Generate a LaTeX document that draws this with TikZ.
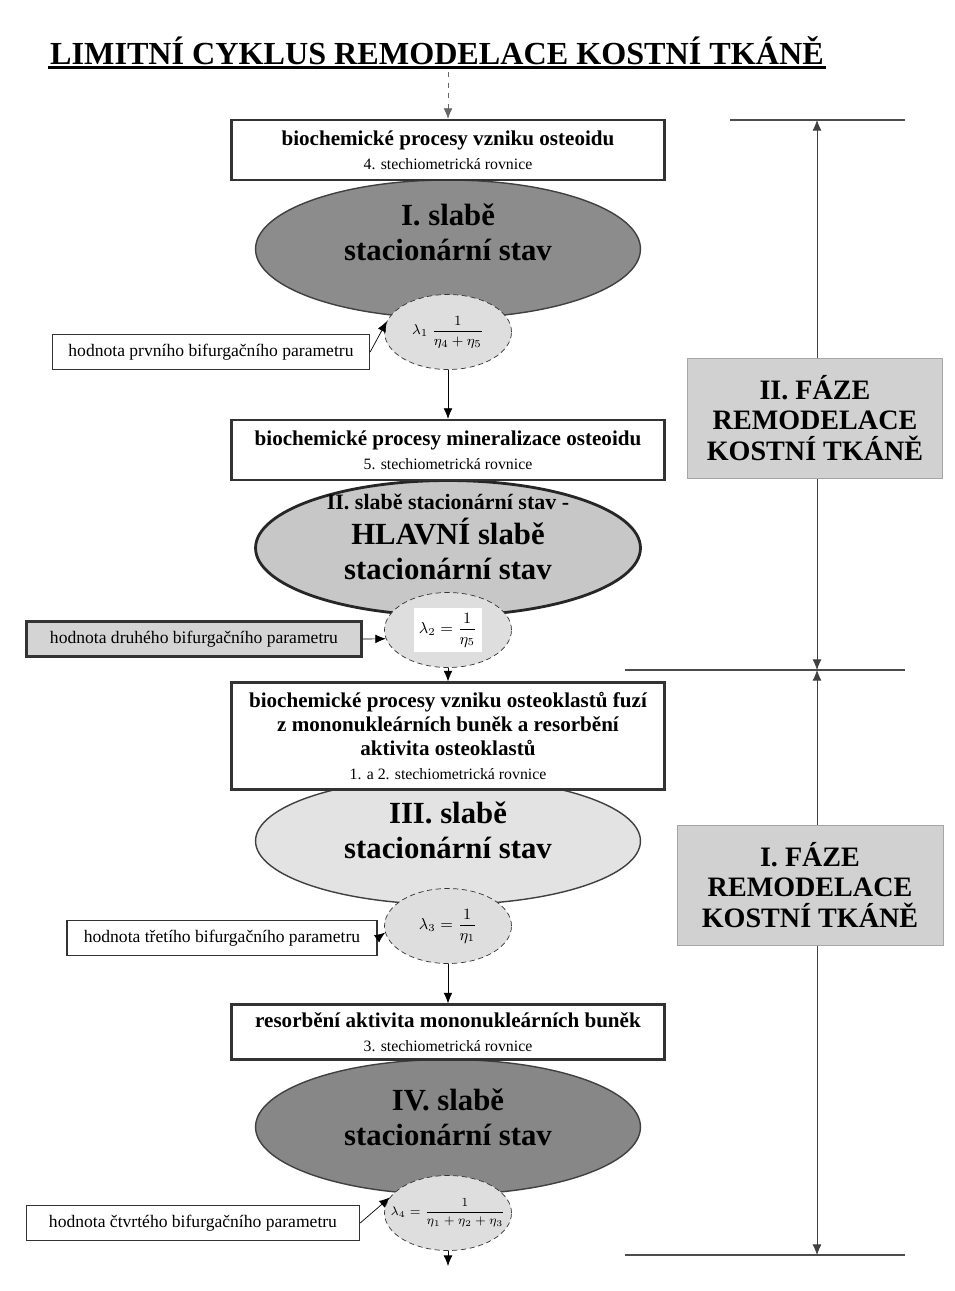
\documentclass[tikz,border=0pt]{standalone}
\usepackage{amsmath, amssymb}
\usepackage{fontspec}
\setmainfont{Liberation Serif}
\usepackage{xcolor}
\usepackage{tikz}
\usetikzlibrary{shapes.geometric, positioning, arrows.meta}

\begin{document}
\begin{tikzpicture}[>={Latex[length=6pt,width=5pt]}, x=0.02cm, y=-0.02cm,
    box/.style={draw=black!80, line width=1.3pt, fill=white, minimum width=8.66cm, align=center, inner sep=2pt, font=\bfseries\fontsize{12}{13.5}\selectfont},
    stav/.style={ellipse, draw=black!75, line width=0.8pt, minimum width=7.7cm, inner sep=0pt},
    stavtext/.style={align=center, inner sep=0pt, font=\bfseries\fontsize{17.5}{20}\selectfont},
    lam/.style={ellipse, draw=black!80, densely dashed, fill=black!13, minimum width=2.54cm, minimum height=1.5cm, inner sep=0pt},
    vzorec/.style={inner sep=1pt, font=\small},
    popis/.style={draw=black!80, line width=0.8pt, fill=white, minimum height=0.7cm, inner sep=2pt, font=\fontsize{10}{11}\selectfont},
    faze/.style={draw=black!35, fill=black!18, align=center, minimum height=2.4cm, font=\bfseries\fontsize{16}{17.3}\selectfont}
]
\useasboundingbox (0,0) rectangle (955,1291);

% Nadpis
\node[font=\bfseries\fontsize{18.3}{21}\selectfont, inner sep=1pt] (nadpis) at (437,51) {LIMITNÍ CYKLUS REMODELACE KOSTNÍ TKÁNĚ};
\draw[line width=1.5pt] (nadpis.south west) -- (nadpis.south east);

% Slabe stacionarni stavy
\node[stav, fill=black!45, minimum height=2.76cm] (s1) at (448,249) {};
\node[stav, fill=black!22, draw=black!85, line width=1.6pt, minimum height=2.7cm] (s2) at (448,548) {};
\node[stav, fill=black!11, minimum height=2.54cm] (s3) at (448,841) {};
\node[stav, fill=black!47, minimum height=2.7cm] (s4) at (448,1127) {};

\node[stavtext] (t1) at (448,232) {I. slabě\\ stacionární stav};
\node[stavtext] (t2) at (448,537) {{\fontsize{12.5}{14}\selectfont II. slabě stacionární stav -}\\ HLAVNÍ slabě\\ stacionární stav};
\node[stavtext] (t3) at (448,830) {III. slabě\\ stacionární stav};
\node[stavtext] (t4) at (448,1117) {IV. slabě\\ stacionární stav};

% Biochemicke procesy
\node[box, minimum height=1.2cm] (b1) at (448,150) {biochemické procesy vzniku osteoidu\\ {\mdseries\fontsize{9}{10}\selectfont 4. stechiometrická rovnice}};
\node[box, minimum height=1.2cm] (b2) at (448,450) {biochemické procesy mineralizace osteoidu\\ {\mdseries\fontsize{9}{10}\selectfont 5. stechiometrická rovnice}};
\node[box, minimum height=2.14cm] (b3) at (448,736) {biochemické procesy vzniku osteoklastů fuzí\\ z mononukleárních buněk a resorbění\\ aktivita osteoklastů\\ {\mdseries\fontsize{9}{10}\selectfont 1. a 2. stechiometrická rovnice}};
\node[box, minimum height=1.1cm] (b4) at (448,1032) {resorbění aktivita mononukleárních buněk\\ {\mdseries\fontsize{9}{10}\selectfont 3. stechiometrická rovnice}};

% Bifurkacni parametry
\node[lam] (c1) at (448,332) {};
\node[lam] (c2) at (448,630) {};
\node[lam] (c3) at (448,926) {};
\node[lam] (c4) at (448,1213) {};
\node[vzorec, font=\footnotesize] (vz1) at (c1) {$\lambda_1\ \dfrac{1}{\eta_4+\eta_5}$};
\node[vzorec, fill=white, inner sep=3pt] (vz2) at (c2) {$\lambda_2 = \dfrac{1}{\eta_5}$};
\node[vzorec] (vz3) at (c3) {$\lambda_3 = \dfrac{1}{\eta_1}$};
\node[vzorec, font=\scriptsize] (vz4) at (c4) {$\lambda_4 = \dfrac{1}{\eta_1+\eta_2+\eta_3}$};

\node[popis, minimum width=6.34cm] (l1) at (211,352) {hodnota prvního bifurgačního parametru};
\node[popis, minimum width=6.7cm, fill=black!17, line width=1.3pt] (l2) at (194,639) {hodnota druhého bifurgačního parametru};
\node[popis, minimum width=6.2cm] (l3) at (222,938) {hodnota třetího bifurgačního parametru};
\node[popis, minimum width=6.66cm] (l4) at (193,1223) {hodnota čtvrtého bifurgačního parametru};

% Sipky
\coordinate (zacatek) at (448,72);
\coordinate (konec) at (448,1266);
\draw[->, dashed, black!60] (zacatek) -- (b1.north);
\draw[->] (c1.south) -- (b2.north);
\draw[->] (c2.south) -- (b3.north);
\draw[->] (c3.south) -- (b4.north);
\draw[->] (c4.south) -- (konec);
\draw[->] (l1.east) -- (c1.170);
\draw[->] (l2.east) -- (c2.188);
\draw[->] (l3.east) -- (c3.186);
\draw[->] (l4.east) -- (c4.165);

% Faze remodelace
\coordinate (h1l) at (730,120);
\coordinate (h1r) at (905,120);
\coordinate (h2l) at (625,670);
\coordinate (h2r) at (905,670);
\coordinate (h3l) at (625,1255);
\coordinate (h3r) at (905,1255);
\coordinate (v1) at (817,120);
\coordinate (v2) at (817,670);
\coordinate (v3) at (817,1255);
\draw[black!70, line width=0.8pt] (h1l) -- (h1r);
\draw[black!70, line width=0.8pt] (h2l) -- (h2r);
\draw[black!70, line width=0.8pt] (h3l) -- (h3r);
\draw[<->, black!75] (v1) -- (v2);
\draw[<->, black!75] (v2) -- (v3);

\node[faze, minimum width=5.1cm] (f2) at (815,418) {II. FÁZE\\ REMODELACE\\ KOSTNÍ TKÁNĚ};
\node[faze, minimum width=5.32cm] (f1) at (810,885) {I. FÁZE\\ REMODELACE\\ KOSTNÍ TKÁNĚ};
\end{tikzpicture}
\end{document}
